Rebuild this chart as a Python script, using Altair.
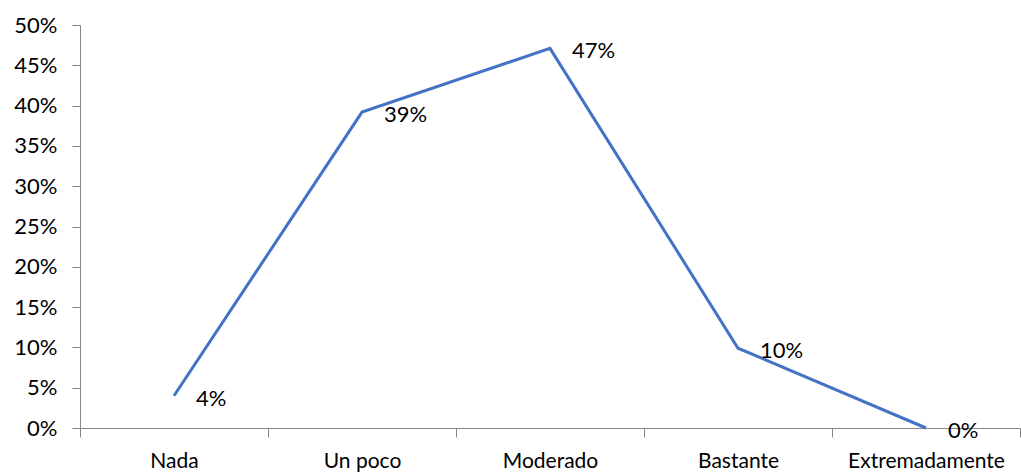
import altair as alt
import pandas as pd

categories = ["Nada", "Un poco", "Moderado", "Bastante", "Extremadamente"]
values = [0.04, 0.392, 0.471, 0.099, 0.0]
labels = ["4%", "39%", "47%", "10%", "0%"]

df = pd.DataFrame({"cat": categories, "val": values, "lab": labels})

FONT = "Lato"
x = alt.X("cat:N", sort=categories, bandPosition=0.5,
          scale=alt.Scale(type="band", paddingInner=0, paddingOuter=0),
          axis=alt.Axis(title=None, labelAngle=0, tickBand="extent", labelFontSize=21,
                        labelFont=FONT, labelColor="#000000", domainColor="#868686",
                        tickColor="#868686", tickSize=9, labelPadding=13, grid=False))
y = alt.Y("val:Q", scale=alt.Scale(domain=[0, 0.5], nice=False),
          axis=alt.Axis(title=None, format=".0%", values=[i / 100 for i in range(0, 51, 5)],
                        labelFontSize=22, labelFont=FONT, labelColor="#000000",
                        domainColor="#868686", tickColor="#868686", tickSize=8,
                        labelPadding=15, grid=False))

line = alt.Chart(df).mark_line(color="#4472C4", strokeWidth=3).encode(x=x, y=y)
text = alt.Chart(df).mark_text(align="left", baseline="middle", dx=22, dy=3, fontSize=22,
                               font=FONT, color="#000000").encode(x=x, y=y, text="lab:N")

chart = (line + text).properties(
    width=940, height=403, autosize="none",
    padding={"left": 80, "top": 25, "right": 1, "bottom": 46},
).configure_view(stroke=None)

chart.save("out.html", embed_options={"renderer": "svg", "actions": False})
